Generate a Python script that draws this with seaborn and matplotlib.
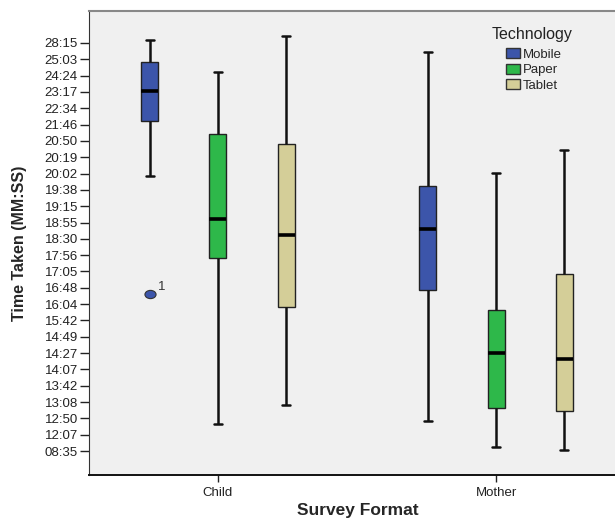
import pandas as pd
import numpy as np
import matplotlib.pyplot as plt
import seaborn as sns
from matplotlib.path import Path
from matplotlib.transforms import Affine2D
from matplotlib.patches import Patch

sns.set_style("ticks")
plt.rcParams["font.family"] = ["Liberation Sans", "DejaVu Sans"]

# ====================================
# Data (y values are positions on the ordinal MM:SS axis)
# ====================================

time_ticks = [
    "08:35", "12:07", "12:50", "13:08", "13:42", "14:07", "14:27",
    "14:49", "15:42", "16:04", "16:48", "17:05", "17:56", "18:30",
    "18:55", "19:15", "19:38", "20:02", "20:19", "20:50", "21:46",
    "22:34", "23:17", "24:24", "25:03", "28:15"
]

survey_format = ["Child", "Child", "Child", "Mother", "Mother", "Mother"]
technology = ["Mobile", "Paper", "Tablet", "Mobile", "Paper", "Tablet"]

whisker_low = [16.85, 1.65, 2.82, 1.86, 0.25, 0.04]
q1 = [20.24, 11.85, 8.84, 9.85, 2.61, 2.45]
median = [22.04, 14.22, 13.24, 13.62, 6.02, 5.64]
q3 = [23.84, 19.42, 18.83, 16.24, 8.62, 10.83]
whisker_high = [25.20, 23.22, 25.43, 24.45, 17.01, 18.44]

# one outlier: case 1, Child / Mobile
outlier_value = [9.62, None, None, None, None, None]
outlier_case = "1"

tech_order = ["Mobile", "Paper", "Tablet"]
tech_colors = {"Mobile": "#3C55AA", "Paper": "#2EB84A", "Tablet": "#D4CE98"}

# long table in the shape seaborn wants (quartiles come out as read)
rows = []
for i in range(len(survey_format)):
    extra = outlier_value[i] if outlier_value[i] is not None else whisker_low[i]
    vals = [extra, whisker_low[i], q1[i], q1[i], median[i],
            q3[i], q3[i], whisker_high[i], whisker_high[i]]
    for v in vals:
        rows.append({"Survey Format": survey_format[i],
                     "Technology": technology[i],
                     "Time": v})
df = pd.DataFrame(rows)

# ====================================
# Plot
# ====================================

fig = plt.figure(figsize=(6.15, 5.22), dpi=100)
ax = fig.add_axes([0.1447, 0.090, 0.8553, 0.889])
ax.set_facecolor("#F0F0F0")

ellipse = Path.unit_circle().transformed(Affine2D().scale(1.35, 1.0))

sns.boxplot(
    data=df,
    x="Survey Format",
    y="Time",
    hue="Technology",
    order=["Child", "Mother"],
    hue_order=tech_order,
    palette=tech_colors,
    saturation=1,
    width=0.734,
    gap=0.75,
    linecolor="#222222",
    linewidth=1.0,
    whiskerprops=dict(color="#111111", linewidth=1.8),
    capprops=dict(color="#111111", linewidth=1.8),
    medianprops=dict(color="black", linewidth=2.6),
    flierprops=dict(marker=ellipse, markersize=8,
                    markerfacecolor=tech_colors["Mobile"],
                    markeredgecolor="#333333", markeredgewidth=0.8),
    legend=False,
    ax=ax
)

# case number next to the outlier
for line in ax.lines:
    yd = np.asarray(line.get_ydata(), dtype=float)
    if line.get_marker() not in (None, "None", "") and len(yd) == 1:
        ax.annotate(outlier_case, (line.get_xdata()[0], yd[0]),
                    xytext=(6, 3), textcoords="offset points",
                    fontsize=9.5, color="#333333")

ax.set_xlim(-0.464, 1.428)
ax.set_ylim(-1.47, 26.96)
ax.set_yticks(range(len(time_ticks)))
ax.set_yticklabels(time_ticks, fontsize=9.5, color="#222222")
ax.tick_params(axis="x", labelsize=9.5, length=5, width=1, colors="#222222")
ax.tick_params(axis="y", length=6.5, width=1, pad=1.5, colors="#222222")

ax.set_xlabel("Survey Format", fontsize=12.5, fontweight="bold")
ax.set_ylabel("Time Taken (MM:SS)", fontsize=11.5, fontweight="bold")
ax.xaxis.set_label_coords(0.511, -0.061)
ax.yaxis.set_label_coords(-0.118, 0.5)

ax.spines["right"].set_visible(False)
ax.spines["top"].set_color("#888888")
ax.spines["top"].set_linewidth(1.5)
ax.spines["left"].set_color("#333333")
ax.spines["bottom"].set_color("#111111")
ax.spines["bottom"].set_linewidth(1.4)

handles = [Patch(facecolor=tech_colors[t], edgecolor="#333333", linewidth=1)
           for t in tech_order]
ax.legend(
    handles, tech_order,
    loc="upper left",
    bbox_to_anchor=(506 / 615, (522 - 48) / 522),
    bbox_transform=fig.transFigure,
    frameon=False,
    fontsize=9.5,
    handlelength=1.05,
    handleheight=0.8,
    handletextpad=0.2,
    labelspacing=0.22,
    borderpad=0,
    borderaxespad=0,
)
fig.text(492 / 615, (522 - 34) / 522, "Technology",
         fontsize=11.5, va="center", ha="left", color="#222222")

plt.savefig("out.png", dpi=100)
plt.close()
